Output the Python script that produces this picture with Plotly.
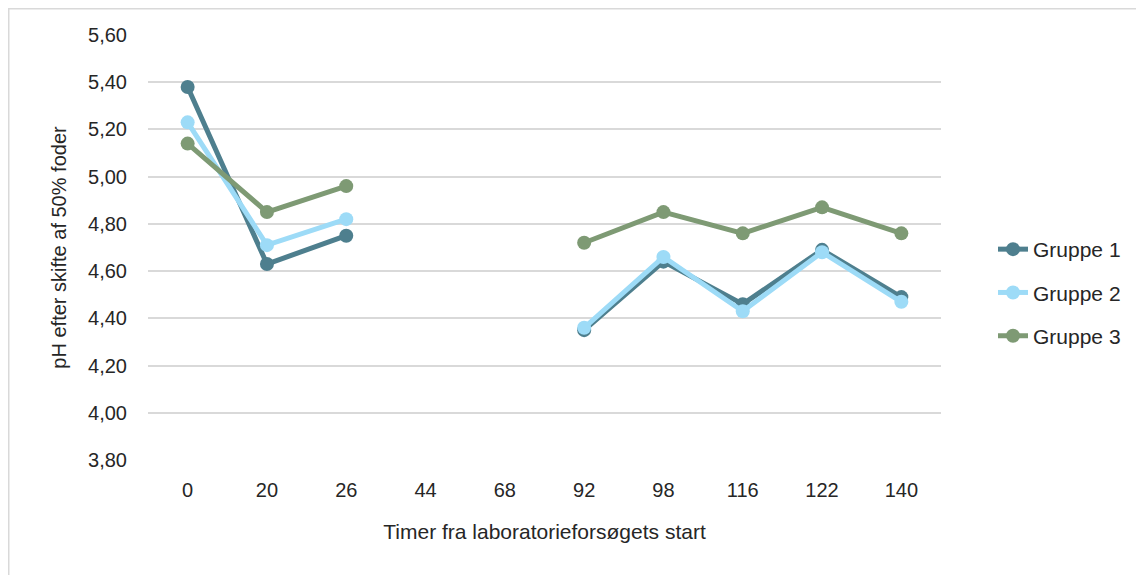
import plotly.graph_objects as go

categories = ["0", "20", "26", "44", "68", "92", "98", "116", "122", "140"]
gruppe1 = [5.38, 4.63, 4.75, None, None, 4.35, 4.64, 4.46, 4.69, 4.49]
gruppe2 = [5.23, 4.71, 4.82, None, None, 4.36, 4.66, 4.43, 4.68, 4.47]
gruppe3 = [5.14, 4.85, 4.96, None, None, 4.72, 4.85, 4.76, 4.87, 4.76]
series_names = ["Gruppe 1", "Gruppe 2", "Gruppe 3"]
colors = ["#4E7F8E", "#9DDBF7", "#7E9A74"]
y_ticks = [3.8, 4.0, 4.2, 4.4, 4.6, 4.8, 5.0, 5.2, 5.4, 5.6]

FONT = "Liberation Sans, Arial, sans-serif"
TXT = "#262626"

# page has an 8px body margin; figure coordinates = page - 8
OFF = 8
W, H = 1144 - OFF, 575 - OFF
L = 148 - OFF
T = 35 - OFF
R = W - (941 - OFF)
B = H - (460 - OFF)
pw, ph = W - L - R, H - T - B

def px_x(page_x):
    return (page_x - OFF - L) / pw

def px_y(page_y):
    return (H - B - (page_y - OFF)) / ph

fig = go.Figure()
for i, (name, vals) in enumerate(zip(series_names, [gruppe1, gruppe2, gruppe3])):
    fig.add_trace(go.Scatter(
        x=categories, y=vals, name=name, mode="lines+markers",
        line=dict(color=colors[i], width=5),
        marker=dict(color=colors[i], size=14),
        connectgaps=False, legendgroup=name,
    ))

fig.update_layout(
    width=W, height=H,
    margin=dict(l=L, r=R, t=T, b=B, autoexpand=False),
    paper_bgcolor="white", plot_bgcolor="white",
    separators=",.",
    font=dict(family=FONT, size=20, color=TXT),
    showlegend=True,
    legend=dict(
        x=px_x(993), y=px_y(229), xanchor="left", yanchor="top",
        font=dict(family=FONT, size=21, color=TXT),
        tracegroupgap=13, bgcolor="rgba(0,0,0,0)",
    ),
    xaxis=dict(
        type="category", categoryorder="array", categoryarray=categories,
        range=[-0.5, len(categories) - 0.5],
        showgrid=False, showline=False, zeroline=False,
        ticks="outside", ticklen=12, tickcolor="rgba(0,0,0,0)",
        tickfont=dict(family=FONT, size=20, color=TXT),
        title=dict(text="Timer fra laboratorieforsøgets start",
                   font=dict(family=FONT, size=21, color=TXT), standoff=24),
    ),
    yaxis=dict(
        range=[3.8, 5.6], tickvals=y_ticks, tickformat=".2f",
        showgrid=True, gridcolor="#D9D9D9", gridwidth=1.5,
        zeroline=False, showline=False,
        ticks="outside", ticklen=16, tickcolor="rgba(0,0,0,0)",
        tickfont=dict(family=FONT, size=20, color=TXT),
        title=dict(text="pH efter skifte af 50% foder",
                   font=dict(family=FONT, size=20, color=TXT), standoff=16),
    ),
    shapes=[dict(type="rect", xref="paper", yref="paper",
                 x0=px_x(OFF + 0.75), x1=px_x(1170), y0=px_y(600), y1=px_y(OFF + 0.75),
                 line=dict(color="#D9D9D9", width=1.5), fillcolor="rgba(0,0,0,0)",
                 layer="below")],
)

fig.write_html("out.html")
